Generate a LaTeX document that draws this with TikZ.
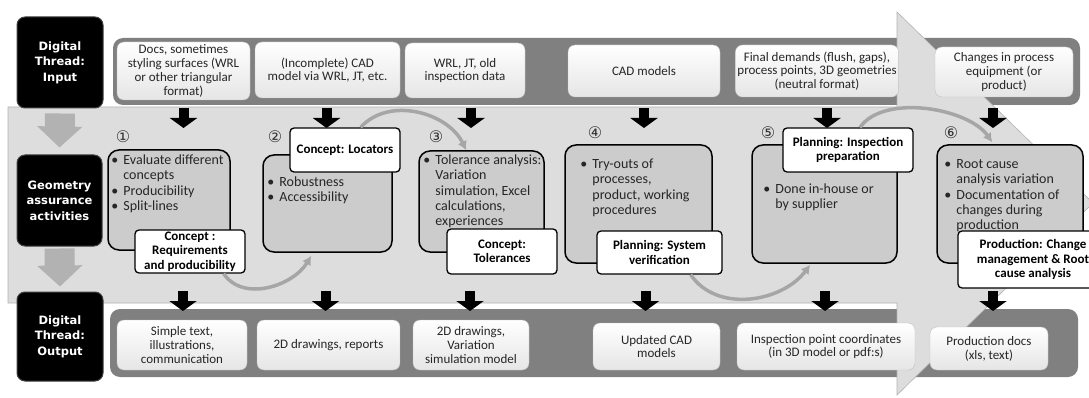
\documentclass[tikz,border=0pt]{standalone}
\usepackage{fontspec}
\setmainfont{Carlito}
\newfontfamily\threadfont{DejaVu Sans}
\usepackage{tikz}
\usetikzlibrary{arrows.meta,calc}

\tikzset{
    inbox/.style={draw=gray!50, rounded corners=7pt, top color=white, bottom color=gray!20,
        align=center, inner sep=2pt, text=black!85, font=\fontsize{13}{13.8}\selectfont},
    actbox/.style={draw=black, line width=1.5pt, rounded corners=11pt, fill=gray!40, inner sep=0pt},
    acttext/.style={anchor=north west, inner sep=0pt, align=left, text=black!85,
        font=\fontsize{14}{15.3}\selectfont},
    tagbox/.style={draw=black, line width=1.3pt, rounded corners=4pt, fill=white, align=center,
        inner sep=1pt, font=\bfseries\fontsize{13}{14.5}\selectfont},
    threadbox/.style={draw=black!75, line width=1pt, fill=black, rounded corners=8pt, text=white,
        align=center, font=\threadfont\bfseries\fontsize{11.5}{15.5}\selectfont},
    stepnum/.style={inner sep=0pt, text=black!80, font=\threadfont\fontsize{16}{16}\selectfont},
    band/.style={fill=gray, rounded corners=10pt},
    flowshape/.style={fill=gray!27, draw=gray!60, line width=0.6pt},
    blkarrow/.style={line width=10pt, -{Triangle[width=27pt,length=10pt]}},
    grayarrow/.style={draw=gray!60, line width=30pt, -{Triangle[width=44pt,length=21pt]}},
    cyclearrow/.style={draw=gray!70, line width=3.5pt, -{Latex[length=9pt,width=10pt]}},
}

\begin{document}
\begin{tikzpicture}[x=1pt,y=-1pt]
    \useasboundingbox (0,0) rectangle (1089,398);
    \clip (0,0) rectangle (1089,398);

    \fill[band] (113,38) rectangle (1080,105);
    \fill[band] (110,309) rectangle (1078,377);
    \filldraw[flowshape] (8,107) -- (897,107) -- (897,12) -- (1093,203) -- (897,395)
        -- (897,303) -- (8,303) -- cycle;

    \node[threadbox, minimum width=86pt, minimum height=91pt] (bbIn) at (60,62.5) {Digital\\Thread:\\Input};
    \node[threadbox, minimum width=85pt, minimum height=91pt] (bbGeo) at (59.5,200.5) {Geometry\\assurance\\activities};
    \node[threadbox, minimum width=86pt, minimum height=89pt] (bbOut) at (60,336.5) {Digital\\Thread:\\Output};
    \draw[grayarrow] ([yshift=-5pt]bbIn.south) -- ([yshift=7pt]bbGeo.north);
    \draw[grayarrow] ([yshift=-2pt]bbGeo.south) -- ([yshift=5pt]bbOut.north);

    \node[inbox, minimum width=133pt, minimum height=58pt] (in1) at (183.5,71) {Docs, sometimes\\styling surfaces (WRL\\or other triangular\\format)};
    \node[inbox, minimum width=145pt, minimum height=56pt] (in2) at (327.5,70) {(Incomplete) CAD\\model via WRL, JT, etc.};
    \node[inbox, minimum width=120pt, minimum height=55pt] (in3) at (465,70.5) {WRL, JT, old\\inspection data};
    \node[inbox, minimum width=152pt, minimum height=52pt] (in4) at (644,71) {CAD models};
    \node[inbox, minimum width=160pt, minimum height=52pt] (in5) at (817,71) {Final demands (flush, gaps),\\process points, 3D geometries\\(neutral format)};
    \node[inbox, minimum width=138pt, minimum height=50pt] (in6) at (1004,72) {Changes in process\\equipment (or\\product)};

    \node[inbox, minimum width=130pt, minimum height=50pt] (out1) at (182,345) {Simple text,\\illustrations,\\communication};
    \node[inbox, minimum width=143pt, minimum height=50pt] (out2) at (328.5,345) {2D drawings, reports};
    \node[inbox, minimum width=116pt, minimum height=50pt] (out3) at (471,345) {2D drawings,\\Variation\\simulation model};
    \node[inbox, minimum width=127pt, minimum height=47pt] (out4) at (656.5,346.5) {Updated CAD\\models};
    \node[inbox, minimum width=178pt, minimum height=47pt] (out5) at (826,346.5) {Inspection point coordinates\\(in 3D model or pdf:s)};
    \node[inbox, minimum width=118pt, minimum height=43pt] (out6) at (989,348.5) {Production docs\\(xls, text)};

    \foreach \n/\dx in {in1/0,in2/-1,in3/6,in4/0,in5/10,in6/-11}
        \draw[blkarrow] ($(\n.south |- 0,108)+(\dx,0)$) -- ++(0,20);
    \foreach \n/\dx in {out1/1,out2/-3,out3/-1,out4/-11,out5/-1,out6/4}
        \draw[blkarrow] ($(\n.north |- 0,291)+(\dx,0)$) -- ++(0,20);

    \node[actbox, minimum width=122pt, minimum height=100pt] (act1) at (169,200) {};
    \node[actbox, minimum width=129pt, minimum height=97pt] (act2) at (327.5,203.5) {};
    \node[actbox, minimum width=125pt, minimum height=101pt] (act3) at (481.5,201.5) {};
    \node[actbox, minimum width=147pt, minimum height=118pt] (act4) at (638.5,204) {};
    \node[actbox, minimum width=145pt, minimum height=118pt] (act5) at (824.5,204) {};
    \node[actbox, minimum width=146pt, minimum height=118pt] (act6) at (1010,204) {};

    \node[acttext] (txt1) at ([shift={(4pt,-4.5pt)}]act1.north west) {\begin{tabular}{@{}l@{\hspace{5pt}}l@{}}
        \textbullet & Evaluate different\\ & concepts\\ \textbullet & Producibility\\ \textbullet & Split-lines\end{tabular}};
    \node[acttext] (txt2) at ([shift={(5pt,-21.5pt)}]act2.north west) {\begin{tabular}{@{}l@{\hspace{5pt}}l@{}}
        \textbullet & Robustness\\ \textbullet & Accessibility\end{tabular}};
    \node[acttext] (txt3) at ([shift={(5pt,-3.5pt)}]act3.north west) {\begin{tabular}{@{}l@{\hspace{5pt}}l@{}}
        \textbullet & Tolerance analysis:\\ & Variation\\ & simulation, Excel\\ & calculations,\\ & experiences\end{tabular}};
    \node[acttext] (txt4) at ([shift={(16pt,-13.5pt)}]act4.north west) {\begin{tabular}{@{}l@{\hspace{5pt}}l@{}}
        \textbullet & Try-outs of\\ & processes,\\ & product, working\\ & procedures\end{tabular}};
    \node[acttext] (txt5) at ([shift={(12pt,-38.5pt)}]act5.north west) {\begin{tabular}{@{}l@{\hspace{5pt}}l@{}}
        \textbullet & Done in-house or\\ & by supplier\end{tabular}};
    \node[acttext] (txt6) at ([shift={(8pt,-13.5pt)}]act6.north west) {\begin{tabular}{@{}l@{\hspace{5pt}}l@{}}
        \textbullet & Root cause\\ & analysis variation\\ \textbullet & Documentation of\\ & changes during\\ & production\end{tabular}};

    \node[tagbox, minimum width=110pt, minimum height=43pt] (tag1) at (190,251.5) {Concept :\\Requirements\\and producibility};
    \node[tagbox, minimum width=110pt, minimum height=44pt] (tag2) at (345,150) {Concept: Locators};
    \node[tagbox, minimum width=110pt, minimum height=45pt] (tag3) at (502,251.5) {Concept:\\Tolerances};
    \node[tagbox, minimum width=125pt, minimum height=43pt] (tag4) at (659.5,252.5) {Planning: System\\verification};
    \node[tagbox, minimum width=130pt, minimum height=44pt] (tag5) at (848,150) {Planning: Inspection\\preparation};
    \node[tagbox, minimum width=150pt, minimum height=57pt] (tag6) at (1033,259.5) {Production: Change\\management \& Root\\cause analysis};

    \draw[cyclearrow] ([shift={(-22pt,0pt)}]tag1.south east) to[out=-56,in=-121] ([shift={(49pt,-3pt)}]act2.south west);
    \draw[cyclearrow] ([shift={(-40pt,0pt)}]tag2.north east) to[out=48,in=116] ([xshift=48pt]act3.north west);
    \draw[cyclearrow] ([shift={(-32pt,0pt)}]tag4.south east) to[out=-56,in=-127] ([shift={(59pt,-1pt)}]act5.south west);
    \draw[cyclearrow] ([shift={(12pt,0pt)}]tag5.north) to[out=55,in=125,looseness=0.8] ([shift={(56pt,2pt)}]act6.north west);

    \foreach \i/\x/\y/\c in {1/123/137/①,2/275/137/②,3/436/137/③,4/595/133/④,5/768/133/⑤,6/951/133/⑥}
        \node[stepnum] (num\i) at (\x,\y) {\c};
\end{tikzpicture}
\end{document}
